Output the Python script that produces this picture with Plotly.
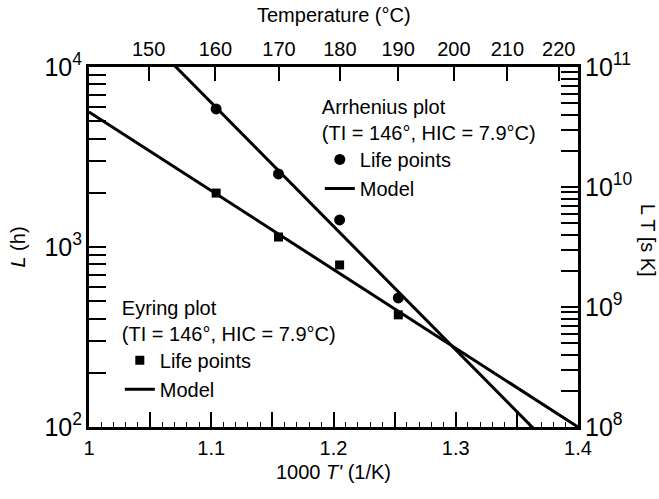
import plotly.graph_objects as go

# ---- data ----
arr_x = [1.104, 1.155, 1.205, 1.253]          # 1000/T' of life points
arr_L = [5850, 2545, 1413, 521]               # Arrhenius life points, L (h)
arr_model_x = [1.0, 1.4]
arr_model_L = [30800, 55.2]                   # Arrhenius model line, L (h)

eyr_x = [1.104, 1.155, 1.205, 1.253]
eyr_LT = [8.9e9, 3.83e9, 2.24e9, 8.6e8]       # Eyring life points, L*T (s K)
eyr_model_x = [1.0, 1.4]
eyr_model_LT = [4.22e10, 1.0e8]               # Eyring model line, L*T (s K)

temp_ticks = [150, 160, 170, 180, 190, 200, 210, 220]   # top axis (°C)

# position of temperature ticks on the 1000/T' scale (axis mapping)
temp_pos = [3.412 - 1000.0 / (t + 273.15) for t in temp_ticks]

FONT = "Liberation Sans, Arial, Helvetica, sans-serif"
FS = 20
LW = 3

fig = go.Figure()

fig.add_trace(go.Scatter(x=arr_x, y=arr_L, mode="markers", name="Life points",
                         marker=dict(symbol="circle", size=11, color="black"),
                         legend="legend"))
fig.add_trace(go.Scatter(x=arr_model_x, y=arr_model_L, mode="lines", name="Model",
                         line=dict(color="black", width=LW), legend="legend"))

fig.add_trace(go.Scatter(x=eyr_x, y=eyr_LT, mode="markers", name="Life points",
                         marker=dict(symbol="square", size=9, color="black"),
                         yaxis="y2", legend="legend2"))
fig.add_trace(go.Scatter(x=eyr_model_x, y=eyr_model_LT, mode="lines", name="Model",
                         line=dict(color="black", width=LW), yaxis="y2",
                         legend="legend2"))

# invisible traces to activate the extra axes
fig.add_trace(go.Scatter(x=[1.0, 1.4], y=[None, None], xaxis="x2", yaxis="y",
                         showlegend=False, hoverinfo="skip"))
fig.add_trace(go.Scatter(x=[1.0, 1.4], y=[None, None], xaxis="x3", yaxis="y",
                         showlegend=False, hoverinfo="skip"))

axis_common = dict(showline=True, linecolor="black", linewidth=LW, showgrid=False,
                   zeroline=False, ticks="inside", tickcolor="black",
                   tickfont=dict(family=FONT, size=FS, color="black"))

fig.update_layout(
    width=659, height=499,
    margin=dict(l=89, r=81, t=67, b=72),
    paper_bgcolor="white", plot_bgcolor="white",
    font=dict(family=FONT, size=FS, color="black"),
    xaxis=dict(range=[1.0, 1.4], tickmode="linear", tick0=1.0, dtick=0.1,
               tickformat="~g", ticklen=15, tickwidth=1.5,
               ticklabelstandoff=1,
               minor=dict(ticks="inside", dtick=0.01, ticklen=5, tickwidth=1.2,
                          tickcolor="black"),
               title=dict(text="1000 <i>T'</i> (1/K)", standoff=7,
                          font=dict(family=FONT, size=FS)),
               **axis_common),
    # unlabeled mid-ticks every 0.05 on the bottom axis
    xaxis3=dict(range=[1.0, 1.4], overlaying="x", side="bottom", anchor="y",
                tickmode="linear", tick0=1.0, dtick=0.05, ticklen=15,
                tickwidth=1.5, showticklabels=False, showline=False,
                showgrid=False, zeroline=False, ticks="inside",
                tickcolor="black"),
    xaxis2=dict(range=[1.0, 1.4], overlaying="x", side="top", anchor="y",
                tickmode="array", tickvals=temp_pos,
                ticktext=[str(t) for t in temp_ticks], ticklen=14, tickwidth=1.5,
                **axis_common),
    yaxis=dict(type="log", range=[2, 4], dtick=1, exponentformat="power",
               ticklen=17, tickwidth=1.5,
               minor=dict(ticks="inside", dtick="D1", ticklen=17, tickwidth=1.5,
                          tickcolor="black"),
               title=dict(text="<i>L</i> (h)", standoff=14,
                          font=dict(family=FONT, size=FS)),
               **axis_common),
    yaxis2=dict(type="log", range=[8, 11], dtick=1, exponentformat="power",
                overlaying="y", side="right", anchor="x",
                ticklen=17, tickwidth=1.5,
                minor=dict(ticks="inside", dtick="D1", ticklen=17, tickwidth=1.5,
                           tickcolor="black"),
                **axis_common),
    legend=dict(x=0.472, y=0.942, xanchor="left", yanchor="top",
                bgcolor="rgba(0,0,0,0)", borderwidth=0,
                title=dict(text="Arrhenius plot<br>(TI = 146°, HIC = 7.9°C)",
                           side="top", font=dict(family=FONT, size=FS)),
                font=dict(family=FONT, size=FS), tracegroupgap=0),
    legend2=dict(x=0.063, y=0.384, xanchor="left", yanchor="top",
                 bgcolor="rgba(0,0,0,0)", borderwidth=0,
                 title=dict(text="Eyring plot<br>(TI = 146°, HIC = 7.9°C)",
                            side="top", font=dict(family=FONT, size=FS)),
                 font=dict(family=FONT, size=FS), tracegroupgap=0),
    annotations=[
        dict(text="Temperature (°C)", xref="paper", yref="paper",
             x=0.5, y=1.144, xanchor="center", yanchor="middle",
             showarrow=False, font=dict(family=FONT, size=FS)),
        dict(text="L T [s K]", xref="paper", yref="paper",
             x=1.17, y=0.52, textangle=90, showarrow=False,
             font=dict(family=FONT, size=FS)),
    ],
)

fig.write_html("out.html")
